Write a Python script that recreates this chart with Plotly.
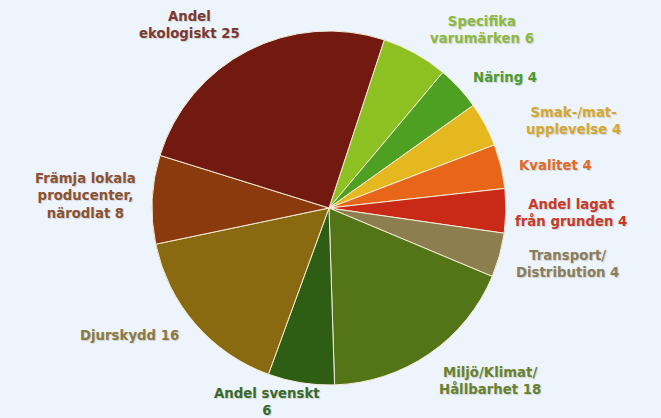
import plotly.graph_objects as go

# Data
labels = ["Specifika varumärken", "Näring", "Smak-/mat-upplevelse", "Kvalitet",
          "Andel lagat från grunden", "Transport/Distribution", "Miljö/Klimat/Hållbarhet",
          "Andel svenskt", "Djurskydd", "Främja lokala producenter, närodlat",
          "Andel ekologiskt"]
values = [6, 4, 4, 4, 4, 4, 18, 6, 16, 8, 25]
label_texts = ["Specifika<br>varumärken 6", "Näring 4", "Smak-/mat-<br>upplevelse 4",
               "Kvalitet 4", "Andel lagat<br>från grunden 4", "Transport/<br>Distribution 4",
               "Miljö/Klimat/<br>Hållbarhet 18", "Andel svenskt<br>6", "Djurskydd 16",
               "Främja lokala<br>producenter,<br>närodlat 8", "Andel<br>ekologiskt 25"]

# Styles
slice_colors = ["#8DC021", "#4EA023", "#E6B820", "#E8661A", "#C92A18", "#8C7E4E",
                "#547418", "#2E5E14", "#8A6A10", "#8A3A0C", "#731A10"]
text_colors = ["#8DB840", "#4E9A30", "#D4A830", "#E06A28", "#C83A28", "#8A7E5A",
               "#66822E", "#3A6A2A", "#8A7A40", "#8A5232", "#7A3A30"]
label_pos = [(482, 30), (505, 77), (573, 121), (555, 165), (571, 213), (567, 264),
             (490, 381), (267, 402), (129, 335), (85, 196), (189, 25)]

W, H = 661, 418
cx, cy, r = 329, 208, 177

fig = go.Figure(go.Pie(
    labels=labels, values=values, sort=False, direction="clockwise", rotation=18.2,
    marker=dict(colors=slice_colors, line=dict(color="#F3ECD6", width=1)),
    textinfo="none", hoverinfo="label+value", showlegend=False,
    domain=dict(x=[(cx - r) / W, (cx + r) / W], y=[(H - cy - r) / H, (H - cy + r) / H]),
))

for t, c, (x, y) in zip(label_texts, text_colors, label_pos):
    fig.add_annotation(x=x / W, y=1 - y / H, xref="paper", yref="paper", text="<b>" + t + "</b>",
                       showarrow=False, xanchor="center", yanchor="middle", align="center",
                       font=dict(family="DejaVu Sans", size=13.3, color=c,
                                 shadow="1px 1px 1px rgba(0,0,0,0.15)"))

fig.update_layout(width=W, height=H, margin=dict(l=0, r=0, t=0, b=0),
                  paper_bgcolor="#EEF4FC", plot_bgcolor="#EEF4FC")
fig.write_html("out.html", config={"displayModeBar": False},
               post_script="document.body.style.margin='0';document.body.style.overflow='hidden';")
